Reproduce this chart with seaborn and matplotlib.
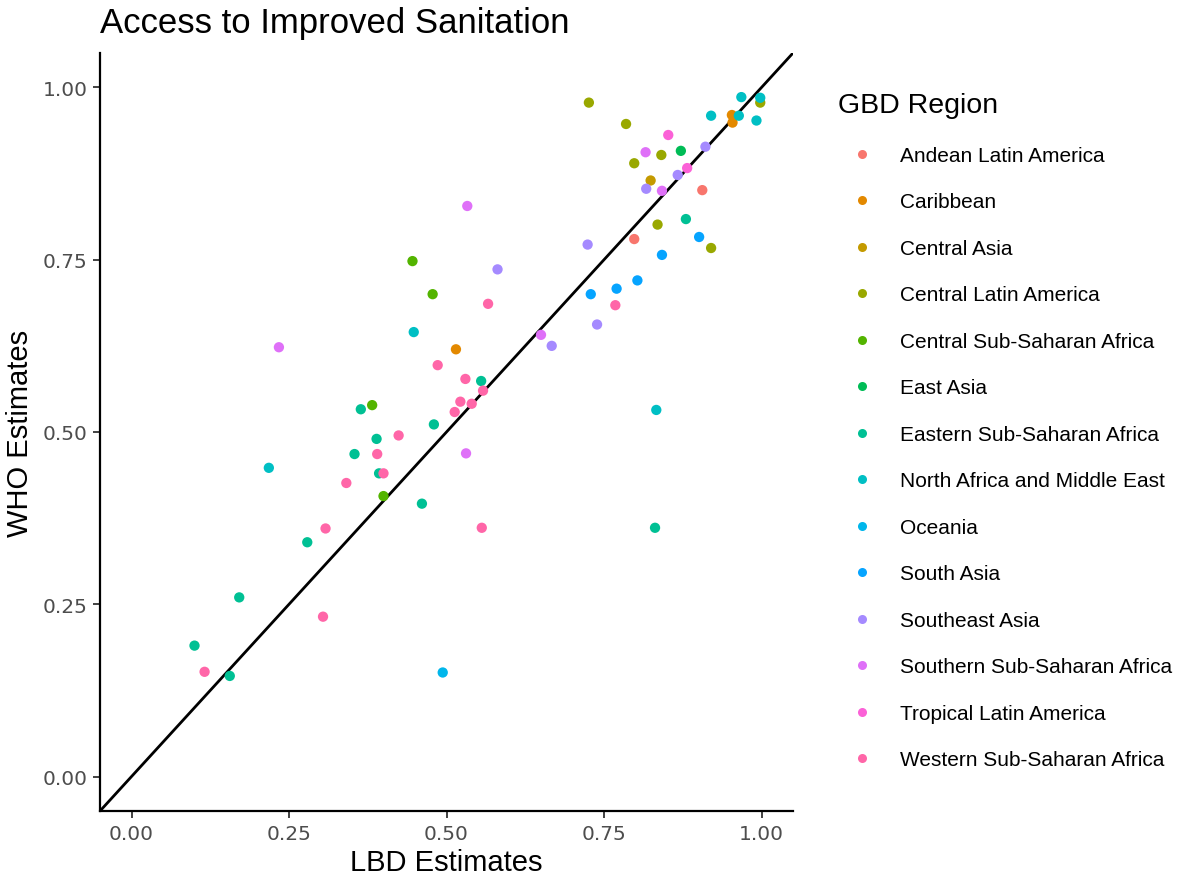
import matplotlib
matplotlib.use("Agg")
import matplotlib.pyplot as plt
import seaborn as sns
import pandas as pd
from matplotlib.lines import Line2D

regions = [
    "Andean Latin America", "Caribbean", "Central Asia", "Central Latin America",
    "Central Sub-Saharan Africa", "East Asia", "Eastern Sub-Saharan Africa",
    "North Africa and Middle East", "Oceania", "South Asia", "Southeast Asia",
    "Southern Sub-Saharan Africa", "Tropical Latin America", "Western Sub-Saharan Africa",
]
colors = ["#F8766D", "#E38900", "#C49A00", "#99A800", "#53B400", "#00BC56", "#00C094",
          "#00BFC4", "#00B6EB", "#06A4FF", "#A58AFF", "#DF70F8", "#FB61D7", "#FF66A8"]

andean_lbd = [0.906, 0.798]
andean_who = [0.851, 0.780]
caribbean_lbd = [0.953, 0.954, 0.515]
caribbean_who = [0.960, 0.949, 0.620]
central_asia_lbd = [0.824]
central_asia_who = [0.865]
central_la_lbd = [0.726, 0.785, 0.998, 0.841, 0.798, 0.835, 0.920]
central_la_who = [0.978, 0.947, 0.978, 0.902, 0.890, 0.801, 0.767]
central_ssa_lbd = [0.446, 0.478, 0.382, 0.400]
central_ssa_who = [0.748, 0.700, 0.539, 0.407]
east_asia_lbd = [0.872]
east_asia_who = [0.908]
eastern_ssa_lbd = [0.364, 0.480, 0.389, 0.354, 0.393, 0.461, 0.279, 0.171, 0.100, 0.156, 0.880, 0.555, 0.831]
eastern_ssa_who = [0.533, 0.511, 0.490, 0.468, 0.440, 0.396, 0.340, 0.260, 0.190, 0.146, 0.809, 0.574, 0.361]
name_lbd = [0.448, 0.218, 0.968, 0.998, 0.920, 0.964, 0.992, 0.833]
name_who = [0.645, 0.448, 0.986, 0.985, 0.959, 0.959, 0.952, 0.532]
oceania_lbd = [0.494]
oceania_who = [0.151]
south_asia_lbd = [0.901, 0.842, 0.803, 0.770, 0.729]
south_asia_who = [0.783, 0.757, 0.720, 0.708, 0.700]
se_asia_lbd = [0.911, 0.867, 0.817, 0.724, 0.581, 0.739, 0.667]
se_asia_who = [0.914, 0.873, 0.853, 0.772, 0.736, 0.656, 0.625]
southern_ssa_lbd = [0.234, 0.816, 0.842, 0.533, 0.650, 0.531]
southern_ssa_who = [0.623, 0.906, 0.850, 0.828, 0.641, 0.469]
tropical_la_lbd = [0.852, 0.882]
tropical_la_who = [0.931, 0.883]
western_ssa_lbd = [0.486, 0.424, 0.390, 0.400, 0.341, 0.308, 0.116, 0.304, 0.566, 0.768,
                   0.530, 0.558, 0.522, 0.540, 0.513, 0.556]
western_ssa_who = [0.597, 0.495, 0.468, 0.440, 0.426, 0.360, 0.152, 0.232, 0.686, 0.684,
                   0.577, 0.560, 0.544, 0.541, 0.529, 0.361]

series = [
    (andean_lbd, andean_who), (caribbean_lbd, caribbean_who),
    (central_asia_lbd, central_asia_who), (central_la_lbd, central_la_who),
    (central_ssa_lbd, central_ssa_who), (east_asia_lbd, east_asia_who),
    (eastern_ssa_lbd, eastern_ssa_who), (name_lbd, name_who),
    (oceania_lbd, oceania_who), (south_asia_lbd, south_asia_who),
    (se_asia_lbd, se_asia_who), (southern_ssa_lbd, southern_ssa_who),
    (tropical_la_lbd, tropical_la_who), (western_ssa_lbd, western_ssa_who),
]

rows = []
for reg, (xs, ys) in zip(regions, series):
    for x, y in zip(xs, ys):
        rows.append({"GBD Region": reg, "LBD": x, "WHO": y})
df = pd.DataFrame(rows)

sns.set_theme(style="ticks")
plt.rcParams["font.family"] = ["Liberation Sans", "DejaVu Sans"]
plt.rcParams["text.color"] = "black"

fig = plt.figure(figsize=(12.04, 8.79), dpi=100)
ax = fig.add_axes([100 / 1204, 1 - 812 / 879, 693 / 1204, 758 / 879])

sns.scatterplot(data=df, x="LBD", y="WHO", hue="GBD Region", hue_order=regions,
                palette=colors, s=55, linewidth=0, ax=ax, legend=False, zorder=3)
ax.axline((0, 0), slope=1, color="black", lw=2, zorder=2)

ax.set_xlim(-0.05, 1.05)
ax.set_ylim(-0.05, 1.05)
ticks = [0.0, 0.25, 0.5, 0.75, 1.0]
tick_labels = ["0.00", "0.25", "0.50", "0.75", "1.00"]
ax.set_xticks(ticks)
ax.set_xticklabels(tick_labels, fontfamily="DejaVu Sans")
ax.set_yticks(ticks)
ax.set_yticklabels(tick_labels, fontfamily="DejaVu Sans")
ax.tick_params(axis="both", labelsize=14.5, labelcolor="#4D4D4D", color="#333333",
               length=5, width=1.3, pad=4)
for side in ["top", "right"]:
    ax.spines[side].set_visible(False)
for side in ["left", "bottom"]:
    ax.spines[side].set_linewidth(1.6)
    ax.spines[side].set_color("black")

ax.set_xlabel("LBD Estimates", fontsize=21, color="black", labelpad=4)
ax.set_ylabel("WHO Estimates", fontsize=21, color="black", labelpad=6)
fig.text(100 / 1204, 1 - 23 / 879, "Access to Improved Sanitation", fontsize=25,
         ha="left", va="center", color="black")

handles = [Line2D([0], [0], marker="o", linestyle="", markersize=6.5,
                  markerfacecolor=c, markeredgewidth=0) for c in colors]
leg = fig.legend(handles, regions, title="GBD Region", loc="upper left",
                 bbox_to_anchor=(830 / 1204, 1 - 85 / 879), frameon=False,
                 fontsize=15, title_fontsize=20.5, labelspacing=1.32,
                 handletextpad=0.67, borderaxespad=0, handlelength=2.3,
                 labelcolor="black")
leg.get_title().set_color("black")
leg._legend_box.align = "left"

fig.savefig("out.png", dpi=100)
